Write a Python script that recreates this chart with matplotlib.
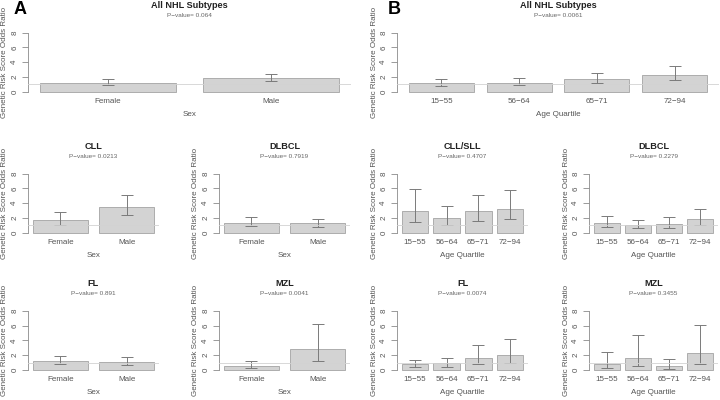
import numpy as np
import matplotlib.pyplot as plt

plt.rcParams['font.family'] = ['Liberation Sans', 'DejaVu Sans']

sex_cats = ["Female", "Male"]
age_cats = ["15\u221255", "56\u221264", "65\u221271", "72\u221294"]

# panel A: odds ratio by sex (estimate, lower, upper)
all_sex = [1.17, 1.80]
all_sex_lo = [0.90, 1.39]
all_sex_hi = [1.66, 2.38]
cll_sex = [1.71, 3.46]
cll_sex_lo = [1.03, 2.34]
cll_sex_hi = [2.74, 5.12]
dlbcl_sex = [1.30, 1.26]
dlbcl_sex_lo = [0.85, 0.81]
dlbcl_sex_hi = [2.07, 1.84]
fl_sex = [1.21, 1.08]
fl_sex_lo = [0.76, 0.63]
fl_sex_hi = [1.84, 1.71]
mzl_sex = [0.58, 2.79]
mzl_sex_lo = [0.27, 1.26]
mzl_sex_hi = [1.17, 6.25]

# panel B: odds ratio by age quartile
all_age = [1.12, 1.21, 1.66, 2.20]
all_age_lo = [0.76, 0.85, 1.17, 1.53]
all_age_hi = [1.66, 1.80, 2.56, 3.42]
cll_age = [2.92, 1.93, 2.88, 3.19]
cll_age_lo = [1.39, 0.99, 1.62, 1.84]
cll_age_hi = [5.84, 3.55, 5.03, 5.71]
dlbcl_age = [1.35, 0.99, 1.17, 1.84]
dlbcl_age_lo = [0.76, 0.63, 0.63, 0.99]
dlbcl_age_hi = [2.29, 1.71, 2.16, 3.19]
fl_age = [0.76, 0.94, 1.66, 1.98]
fl_age_lo = [0.36, 0.45, 0.76, 0.90]
fl_age_hi = [1.30, 1.66, 3.42, 4.18]
mzl_age = [0.81, 1.57, 0.49, 2.25]
mzl_age_lo = [0.27, 0.49, 0.18, 0.85]
mzl_age_hi = [2.38, 4.67, 1.44, 6.02]

W, H = 720, 400
PPU = 7.4  # pixels per odds-ratio unit

fig = plt.figure(figsize=(7.2, 4), dpi=100)


def panel(x_left, x_right, y_zero, cats, vals, lo, hi, title, pval, xlabel):
    top = y_zero - 8.32 * PPU
    bottom = y_zero + 0.32 * PPU
    ax = fig.add_axes([x_left / W, 1 - bottom / H,
                       (x_right - x_left) / W, (bottom - top) / H])
    n = len(cats)
    x = 0.7 + 1.2 * np.arange(n)
    span = 1.2 * n - 0.2
    vals = np.array(vals)
    ax.bar(x, vals, width=1, color='#d3d3d3', edgecolor='#a3a3a3',
           linewidth=0.6, zorder=2)
    ax.errorbar(x, vals, yerr=[vals - np.array(lo), np.array(hi) - vals],
                fmt='none', ecolor='#7a7a7a', elinewidth=0.7,
                capsize=4.3, capthick=0.7, zorder=3)
    ax.axhline(1, color='#d2d2d2', lw=0.6, zorder=4)
    ax.set_xlim(0.2 - 0.04 * span, 1.2 * n + 0.04 * span)
    ax.set_ylim(-0.32, 8.32)

    for s in ['top', 'right', 'bottom']:
        ax.spines[s].set_visible(False)
    ax.spines['left'].set_bounds(0, 8)
    ax.spines['left'].set_color('#8a8a8a')
    ax.spines['left'].set_linewidth(0.6)
    ax.set_yticks([0, 2, 4, 6, 8])
    ax.tick_params(axis='y', length=4.5, width=0.6, color='#8a8a8a',
                   labelsize=5.8, labelcolor='#555555', pad=2.5,
                   labelrotation=90)
    for t in ax.get_yticklabels():
        t.set_va('center')
    ax.set_xticks(x, cats)
    ax.tick_params(axis='x', length=0, labelsize=5.8, labelcolor='#555555',
                   pad=2.5)
    ax.set_facecolor('none')

    ax.set_xlabel(xlabel, fontsize=5.8, color='#555555')
    ax.xaxis.set_label_coords(0.5, -(19 - 0.32 * PPU) / (bottom - top))
    ax.set_ylabel("Genetic Risk Score Odds Ratio", fontsize=5.8,
                  color='#555555')
    ax.yaxis.set_label_coords(-19.5 / (x_right - x_left), 0.5)

    ax.annotate(title, (0.5, 1), xycoords='axes fraction',
                xytext=(0, 24.5), textcoords='offset pixels',
                ha='center', va='center', fontsize=6.6, fontweight='bold',
                color='#222222')
    ax.annotate("P\u2212value= " + pval, (0.5, 1), xycoords='axes fraction',
                xytext=(0, 15), textcoords='offset pixels',
                ha='center', va='center', fontsize=4.6, color='#666666')
    return ax


rows = [91.7, 232.7, 370.0]

panel(28, 351, rows[0], sex_cats, all_sex, all_sex_lo, all_sex_hi,
      "All NHL Subtypes", "0.064", "Sex")
panel(28, 159, rows[1], sex_cats, cll_sex, cll_sex_lo, cll_sex_hi,
      "CLL", "0.0213", "Sex")
panel(219, 350, rows[1], sex_cats, dlbcl_sex, dlbcl_sex_lo, dlbcl_sex_hi,
      "DLBCL", "0.7919", "Sex")
panel(28, 159, rows[2], sex_cats, fl_sex, fl_sex_lo, fl_sex_hi,
      "FL", "0.891", "Sex")
panel(219, 350, rows[2], sex_cats, mzl_sex, mzl_sex_lo, mzl_sex_hi,
      "MZL", "0.0041", "Sex")

panel(397, 719, rows[0], age_cats, all_age, all_age_lo, all_age_hi,
      "All NHL Subtypes", "0.0061", "Age Quartile")
panel(397, 528, rows[1], age_cats, cll_age, cll_age_lo, cll_age_hi,
      "CLL/SLL", "0.4707", "Age Quartile")
panel(589, 718, rows[1], age_cats, dlbcl_age, dlbcl_age_lo, dlbcl_age_hi,
      "DLBCL", "0.2279", "Age Quartile")
panel(397, 528, rows[2], age_cats, fl_age, fl_age_lo, fl_age_hi,
      "FL", "0.0074", "Age Quartile")
panel(589, 718, rows[2], age_cats, mzl_age, mzl_age_lo, mzl_age_hi,
      "MZL", "0.3455", "Age Quartile")

fig.text(20 / W, 1 - 9 / H, "A", fontsize=13, fontweight='bold',
         ha='center', va='center')
fig.text(394 / W, 1 - 9 / H, "B", fontsize=13, fontweight='bold',
         ha='center', va='center')

fig.savefig("out.png", dpi=100)
